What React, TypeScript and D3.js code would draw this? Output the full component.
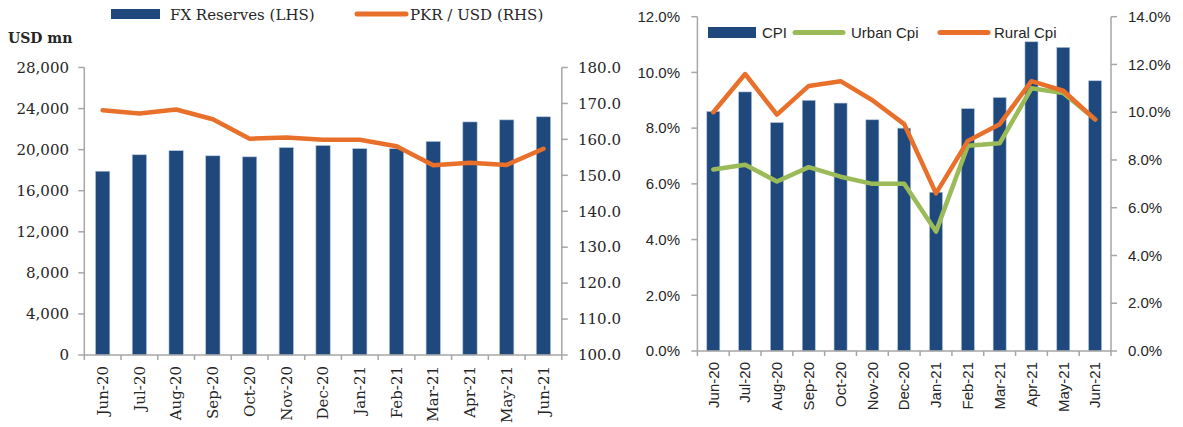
import React from "react";
import * as d3 from "d3";

const months = ["Jun-20","Jul-20","Aug-20","Sep-20","Oct-20","Nov-20","Dec-20","Jan-21","Feb-21","Mar-21","Apr-21","May-21","Jun-21"];
const fxReserves = [17900, 19500, 19900, 19400, 19300, 20200, 20400, 20100, 20100, 20800, 22700, 22900, 23200];
const pkrUsd = [168.1, 167.2, 168.3, 165.6, 160.2, 160.5, 159.9, 159.9, 158.1, 152.8, 153.5, 152.9, 157.4];
const cpi = [8.6, 9.3, 8.2, 9.0, 8.9, 8.3, 8.0, 5.7, 8.7, 9.1, 11.1, 10.9, 9.7];
const urbanCpi = [7.6, 7.8, 7.1, 7.7, 7.3, 7.0, 7.0, 5.0, 8.6, 8.7, 11.0, 10.8, 9.7];
const ruralCpi = [10.0, 11.6, 9.9, 11.1, 11.3, 10.5, 9.5, 6.6, 8.8, 9.5, 11.3, 10.9, 9.7];
const leftTicksL = [0, 4000, 8000, 12000, 16000, 20000, 24000, 28000];
const leftTicksR = [100, 110, 120, 130, 140, 150, 160, 170, 180];
const rightTicksL = [0, 2, 4, 6, 8, 10, 12];
const rightTicksR = [0, 2, 4, 6, 8, 10, 12, 14];

const BLUE = "#1F497D";
const ORANGE = "#E8702A";
const GREEN = "#9BBB59";
const AXIS = "#A6A6A6";
const TXT = "#262626";
const SERIF = "'DejaVu Serif', serif";
const SANS = "'Liberation Sans', Arial, sans-serif";

function Chart({ x0, x1, yBase, yTop, lMax, rMin, rMax, ticksL, ticksR, fmtL, fmtR, font, fs, labL, labR, labTop, bars, lines, barFrac }) {
  const x = d3.scaleBand().domain(months).range([x0, x1]).padding(0);
  const yL = d3.scaleLinear().domain([0, lMax]).range([yBase, yTop]);
  const yR = d3.scaleLinear().domain([rMin, rMax]).range([yBase, yTop]);
  const bw = x.bandwidth() * barFrac;
  const cx = (m) => (x(m) as number) + x.bandwidth() / 2;
  return (
    <g>
      {bars.map((v, i) => (
        <rect key={i} x={cx(months[i]) - bw / 2} y={yL(v)} width={bw} height={yBase - yL(v)} fill={BLUE} stroke="#B4C7DC" strokeWidth={0.6} />
      ))}
      {lines.map((ln, k) => {
        const gen = d3.line<number>().x((_, i) => cx(months[i])).y((v) => yR(v));
        return <path key={k} d={gen(ln.data) as string} fill="none" stroke={ln.color} strokeWidth={4.5} strokeLinejoin="round" strokeLinecap="round" />;
      })}
      {/* axes */}
      <line x1={x0} x2={x0} y1={yTop} y2={yBase} stroke={AXIS} strokeWidth={1.5} />
      <line x1={x1} x2={x1} y1={yTop} y2={yBase} stroke={AXIS} strokeWidth={1.5} />
      <line x1={x0} x2={x1} y1={yBase} y2={yBase} stroke={AXIS} strokeWidth={1.5} />
      {ticksL.map((t) => (
        <g key={"l" + t}>
          <line x1={x0 - 6} x2={x0} y1={yL(t)} y2={yL(t)} stroke={AXIS} strokeWidth={1.5} />
          <text x={labL} y={yL(t)} dy="0.35em" textAnchor="end" fontFamily={font} fontSize={fs} fill={TXT}>{fmtL(t)}</text>
        </g>
      ))}
      {ticksR.map((t) => (
        <g key={"r" + t}>
          <line x1={x1} x2={x1 + 6} y1={yR(t)} y2={yR(t)} stroke={AXIS} strokeWidth={1.5} />
          <text x={labR} y={yR(t)} dy="0.35em" textAnchor="start" fontFamily={font} fontSize={fs} fill={TXT}>{fmtR(t)}</text>
        </g>
      ))}
      {d3.range(months.length + 1).map((i) => {
        const xx = x0 + i * x.bandwidth();
        return <line key={"xt" + i} x1={xx} x2={xx} y1={yBase} y2={yBase + 5} stroke={AXIS} strokeWidth={1.5} />;
      })}
      {months.map((m) => (
        <text key={m} transform={`translate(${cx(m)},${labTop}) rotate(-90)`} dy="0.35em" textAnchor="end" fontFamily={font} fontSize={fs} fill={TXT}>{m}</text>
      ))}
    </g>
  );
}

export default function App() {
  const fmtComma = d3.format(",");
  const fmt1 = d3.format(".1f");
  const fmtPct = (v) => d3.format(".1f")(v) + "%";
  return (
    <svg width={1183} height={427} style={{ position: "absolute", left: 0, top: 0, background: "#fff" }}>
      {/* Left chart */}
      <Chart x0={84.3} x1={561.8} yBase={355} yTop={67.5} lMax={28000} rMin={100} rMax={180}
        ticksL={leftTicksL} ticksR={leftTicksR} fmtL={fmtComma} fmtR={fmt1} font={SERIF} fs={15}
        labL={69} labR={578} labTop={366} bars={fxReserves} barFrac={0.39}
        lines={[{ data: pkrUsd, color: ORANGE }]} />
      <text x={8} y={43} fontFamily={SERIF} fontWeight="bold" fontSize={14} fill={TXT}>USD mn</text>
      <rect x={111} y={9} width={49} height={10} fill={BLUE} />
      <text x={170} y={19.5} fontFamily={SERIF} fontSize={15} fill={TXT}>FX Reserves (LHS)</text>
      <line x1={357} x2={406} y1={14} y2={14} stroke={ORANGE} strokeWidth={5} strokeLinecap="round" />
      <text x={410} y={19.5} fontFamily={SERIF} fontSize={15} fill={TXT}>PKR / USD (RHS)</text>

      {/* Right chart */}
      <Chart x0={697.4} x1={1111} yBase={351} yTop={16.7} lMax={12} rMin={0} rMax={14}
        ticksL={rightTicksL} ticksR={rightTicksR} fmtL={fmtPct} fmtR={fmtPct} font={SANS} fs={15}
        labL={680} labR={1128} labTop={362} bars={cpi} barFrac={0.41}
        lines={[{ data: urbanCpi, color: GREEN }, { data: ruralCpi, color: ORANGE }]} />
      <rect x={708} y={27} width={48} height={11} fill={BLUE} />
      <text x={762} y={38} fontFamily={SANS} fontSize={15} fill={TXT}>CPI</text>
      <line x1={795} x2={843} y1={32.5} y2={32.5} stroke={GREEN} strokeWidth={5} strokeLinecap="round" />
      <text x={851} y={38} fontFamily={SANS} fontSize={15} fill={TXT}>Urban Cpi</text>
      <line x1={940} x2={988} y1={32.5} y2={32.5} stroke={ORANGE} strokeWidth={5} strokeLinecap="round" />
      <text x={994} y={38} fontFamily={SANS} fontSize={15} fill={TXT}>Rural Cpi</text>
    </svg>
  );
}
